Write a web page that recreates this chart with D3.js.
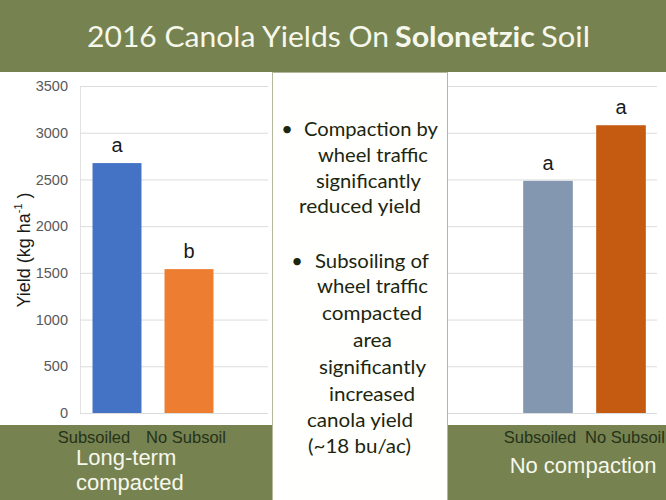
<!DOCTYPE html>
<html><head><meta charset="utf-8">
<script src="https://cdn.jsdelivr.net/npm/d3@7"></script>
<style>body{margin:0;background:#fff}svg{display:block}</style>
</head><body><svg id="c" width="666" height="500"></svg>
<script>
// ---- data ----
const categories = ["Subsoiled", "No Subsoil"];
const compactedYield = [2675, 1540];
const compactedLetters = ["a", "b"];
const noCompactionYield = [2485, 3080];
const noCompactionLetters = ["a", "a"];
const yTicks = [0, 500, 1000, 1500, 2000, 2500, 3000, 3500];
const groupLabelLeft = ["Long-term", "compacted"];
const groupLabelRight = ["No compaction"];
const titleParts = ["2016 Canola Yields On", "Solonetzic", "Soil"];
const middleLines = ["Compaction by", "wheel traffic", "significantly", "reduced yield",
  "Subsoiling of", "wheel traffic", "compacted", "area", "significantly", "increased",
  "canola yield", "(~18 bu/ac)"];

// ---- styles ----
const green = "#768250";
const compactedColors = ["#4472c4", "#ed7d31"];
const noCompactionColors = ["#8497b0", "#c55a11"];
const sans = "'Liberation Sans', Arial, sans-serif";
const humanist = "Lato, 'Open Sans', sans-serif";

const svg = d3.select("#c");
svg.append("rect").attr("width", 666).attr("height", 500).attr("fill", "#fff");

// title band & bottom band
svg.append("rect").attr("x", 0).attr("y", 0).attr("width", 666).attr("height", 72).attr("fill", green);
svg.append("rect").attr("x", 0).attr("y", 425).attr("width", 666).attr("height", 75).attr("fill", green);

// title
const titleLayout = [{x: 87, w: 302, b: false}, {x: 395, w: 140, b: true}, {x: 541, w: 49, b: false}];
titleParts.forEach((t, i) => {
  svg.append("text").text(t)
    .attr("x", titleLayout[i].x).attr("y", 47)
    .attr("textLength", titleLayout[i].w).attr("lengthAdjust", "spacingAndGlyphs")
    .attr("font-family", humanist).attr("font-size", 29)
    .attr("font-weight", titleLayout[i].b ? 700 : 400)
    .attr("fill", "#f6f8ec");
});

// shared y scale
const y = d3.scaleLinear().domain([0, 3500]).range([413, 86]);

function gridAxis(x0, width, labels) {
  const ax = d3.axisLeft(y).tickValues(yTicks).tickSizeInner(-width).tickSizeOuter(0).tickPadding(12)
    .tickFormat(labels ? d3.format("d") : "");
  const g = svg.append("g").attr("transform", `translate(${x0},0)`).call(ax);
  g.selectAll(".tick line").attr("stroke", "#dcdcdc");
  g.select(".domain").attr("stroke", labels ? "#e2e2e2" : "none");
  g.selectAll(".tick text").attr("fill", "#595959").attr("font-family", sans).attr("font-size", 14.5);
  return g;
}

function bars(range, values, colors, letters) {
  const x = d3.scaleBand().domain(categories).range(range).paddingInner(0.32).paddingOuter(0.16);
  svg.append("g").selectAll("rect").data(values).join("rect")
    .attr("x", (d, i) => x(categories[i]))
    .attr("width", x.bandwidth())
    .attr("y", d => y(d))
    .attr("height", d => y(0) - y(d))
    .attr("fill", (d, i) => colors[i]);
  svg.append("g").selectAll("text").data(values).join("text")
    .attr("x", (d, i) => x(categories[i]) + x.bandwidth() / 2)
    .attr("y", d => y(d) - 11)
    .attr("text-anchor", "middle")
    .attr("font-family", sans).attr("font-size", 20).attr("fill", "#1a1a1a")
    .text((d, i) => letters[i]);
  return x;
}

// left chart
gridAxis(80, 188, true);
bars([81, 225], compactedYield, compactedColors, compactedLetters);
// right chart
gridAxis(447, 210, false);
bars([511.5, 657.5], noCompactionYield, noCompactionColors, noCompactionLetters);

// y axis title
const yt = svg.append("text")
  .attr("transform", "translate(30,250) rotate(-90)")
  .attr("text-anchor", "middle")
  .attr("font-family", sans).attr("font-size", 18).attr("fill", "#1a1a1a");
yt.append("tspan").text("Yield (kg ha");
yt.append("tspan").text("-1").attr("font-size", 11).attr("dy", -8);
yt.append("tspan").text(" )").attr("dy", 8);

// category labels
const catLeftX = [94, 186], catRightX = [540, 625];
[catLeftX, catRightX].forEach(xs => {
  categories.forEach((c, i) => {
    svg.append("text").text(c).attr("x", xs[i]).attr("y", 443)
      .attr("text-anchor", "middle")
      .attr("font-family", sans).attr("font-size", 16.5).attr("fill", "#25321a");
  });
});

// group labels
groupLabelLeft.forEach((t, i) => {
  svg.append("text").text(t).attr("x", 76).attr("y", 465 + i * 25)
    .attr("font-family", sans).attr("font-size", 22).attr("fill", "#f6f8ec");
});
svg.append("text").text(groupLabelRight[0]).attr("x", 583).attr("y", 473)
  .attr("text-anchor", "middle")
  .attr("font-family", sans).attr("font-size", 22).attr("fill", "#f6f8ec");

// middle text panel
svg.append("rect").attr("x", 272.5).attr("y", 72.5).attr("width", 175).attr("height", 428)
  .attr("fill", "#fffffd").attr("stroke", "#b3b89c").attr("stroke-width", 1);
const midLayout = [
  [371, 136, 134], [373, 162, 110], [368.5, 188, 105], [360, 213, 122],
  [372, 268, 114], [372.5, 293, 111], [372, 320, 100], [372.5, 347, 39],
  [372.5, 374, 107], [372, 401, 86], [360, 427, 106], [359.5, 453, 103]
];
middleLines.forEach((t, i) => {
  const [cx, by, w] = midLayout[i];
  svg.append("text").text(t).attr("x", cx).attr("y", by)
    .attr("text-anchor", "middle")
    .attr("textLength", w).attr("lengthAdjust", "spacingAndGlyphs")
    .attr("font-family", humanist).attr("font-size", 20).attr("fill", "#1c260f");
});
[[287, 136], [297, 268]].forEach(([bx, by]) => {
  svg.append("text").text("•").attr("x", bx).attr("y", by).attr("text-anchor", "middle")
    .attr("font-family", humanist).attr("font-size", 20).attr("fill", "#1c260f");
});
</script></body></html>
